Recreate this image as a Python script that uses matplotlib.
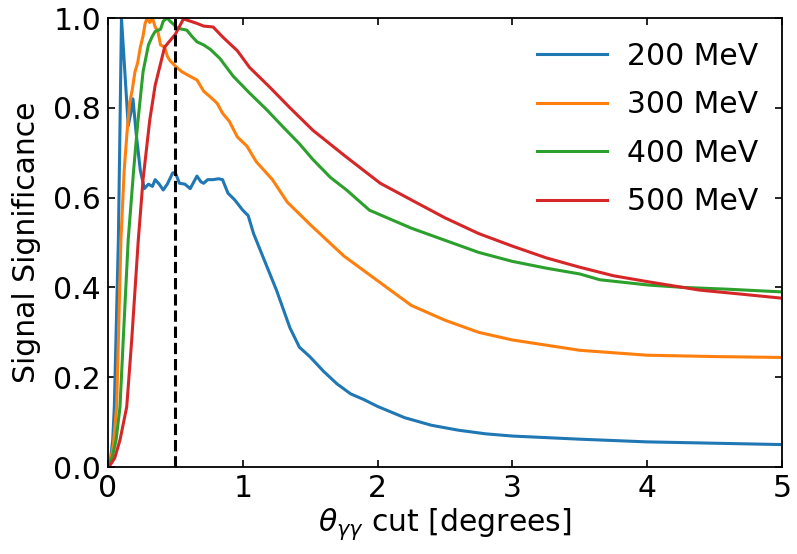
import matplotlib
matplotlib.use("Agg")
import matplotlib.pyplot as plt

# 200 MeV
x200 = [0.0, 0.02, 0.035, 0.047, 0.059, 0.077, 0.09, 0.10, 0.125, 0.15, 0.17, 0.185, 0.21, 0.24, 0.27,
        0.30, 0.33, 0.35, 0.38, 0.41, 0.44, 0.48, 0.50, 0.53, 0.57, 0.61, 0.66, 0.69, 0.71, 0.74,
        0.78, 0.82, 0.85, 0.89, 0.94, 1.0, 1.04, 1.08, 1.15, 1.25, 1.35, 1.42, 1.5, 1.6, 1.7,
        1.8, 1.9, 2.0, 2.2, 2.4, 2.6, 2.8, 3.0, 3.5, 4.0, 4.5, 5.0]
y200 = [0.0, 0.02, 0.06, 0.134, 0.283, 0.506, 0.78, 1.0, 0.88, 0.76, 0.79, 0.82, 0.74, 0.66, 0.62,
        0.63, 0.625, 0.64, 0.63, 0.617, 0.63, 0.655, 0.655, 0.632, 0.63, 0.62, 0.648, 0.635, 0.632, 0.64,
        0.64, 0.642, 0.64, 0.61, 0.595, 0.572, 0.56, 0.52, 0.468, 0.394, 0.31, 0.267, 0.245, 0.213, 0.185,
        0.163, 0.15, 0.135, 0.11, 0.093, 0.082, 0.074, 0.069, 0.062, 0.056, 0.053, 0.050]

# 300 MeV
x300 = [0.0, 0.02, 0.04, 0.064, 0.077, 0.096, 0.12, 0.14, 0.16, 0.18, 0.20, 0.22, 0.24, 0.26, 0.275,
        0.29, 0.31, 0.33, 0.35, 0.37, 0.39, 0.42, 0.44, 0.46, 0.51, 0.55, 0.61, 0.66, 0.71, 0.76,
        0.81, 0.85, 0.90, 0.96, 1.03, 1.10, 1.22, 1.33, 1.5, 1.75, 2.0, 2.25, 2.5, 2.75, 3.0,
        3.5, 4.0, 4.5, 5.0]
y300 = [0.0, 0.015, 0.05, 0.134, 0.283, 0.506, 0.66, 0.74, 0.81, 0.84, 0.88, 0.90, 0.935, 0.96, 0.987,
        1.0, 0.99, 1.0, 0.98, 0.97, 0.94, 0.935, 0.915, 0.905, 0.89, 0.88, 0.87, 0.862, 0.837, 0.824,
        0.81, 0.788, 0.77, 0.735, 0.715, 0.68, 0.64, 0.59, 0.54, 0.47, 0.415, 0.36, 0.327, 0.30, 0.283,
        0.26, 0.249, 0.246, 0.244]

# 400 MeV
x400 = [0.0, 0.03, 0.06, 0.089, 0.113, 0.15, 0.19, 0.22, 0.26, 0.30, 0.33, 0.35, 0.39, 0.41, 0.44,
        0.46, 0.49, 0.51, 0.55, 0.585, 0.62, 0.66, 0.71, 0.76, 0.83, 0.93, 1.05, 1.18, 1.30, 1.42,
        1.52, 1.65, 1.77, 1.94, 2.25, 2.5, 2.75, 3.0, 3.25, 3.5, 3.65, 4.02, 4.27, 4.6, 5.0]
y400 = [0.0, 0.02, 0.06, 0.134, 0.283, 0.506, 0.66, 0.764, 0.88, 0.94, 0.96, 0.97, 0.975, 0.993, 1.0,
        0.993, 0.985, 0.978, 0.975, 0.973, 0.96, 0.947, 0.94, 0.93, 0.91, 0.87, 0.833, 0.795, 0.757, 0.72,
        0.685, 0.645, 0.617, 0.572, 0.532, 0.505, 0.478, 0.458, 0.443, 0.43, 0.417, 0.405, 0.40, 0.396, 0.39]

# 500 MeV
x500 = [0.0, 0.02, 0.05, 0.089, 0.139, 0.176, 0.225, 0.26, 0.31, 0.35, 0.42, 0.50, 0.56, 0.61, 0.66,
        0.71, 0.78, 0.85, 0.96, 1.05, 1.2, 1.35, 1.52, 1.77, 2.02, 2.25, 2.5, 2.75, 3.0, 3.25,
        3.5, 3.75, 4.02, 4.39, 4.7, 5.0]
y500 = [0.0, 0.006, 0.02, 0.06, 0.134, 0.283, 0.506, 0.64, 0.773, 0.85, 0.935, 0.964, 0.998, 0.993, 0.988,
        0.982, 0.98, 0.958, 0.927, 0.89, 0.846, 0.80, 0.75, 0.69, 0.632, 0.595, 0.555, 0.52, 0.492, 0.466,
        0.445, 0.426, 0.412, 0.394, 0.385, 0.376]

labels = ["200 MeV", "300 MeV", "400 MeV", "500 MeV"]
colors = ["#1f77b4", "#ff7f0e", "#2ca02c", "#d62728"]
cut_value = 0.5

FS = 21.5

fig = plt.figure(figsize=(7.97, 5.54), dpi=100)
ax = fig.add_axes([0.1355, 0.157, 0.8455, 0.8105])

for xs, ys, lab, c in zip([x200, x300, x400, x500], [y200, y300, y400, y500], labels, colors):
    ax.plot(xs, ys, color=c, lw=2.2, label=lab)

ax.axvline(cut_value, color="black", ls="--", lw=2.2)

ax.set_xlim(0, 5)
ax.set_ylim(0, 1)
ax.set_xticks([0, 1, 2, 3, 4, 5])
ax.set_yticks([0.0, 0.2, 0.4, 0.6, 0.8, 1.0])
ax.tick_params(direction="in", top=True, right=True, length=5, width=1.2, labelsize=FS, pad=5)
for s in ax.spines.values():
    s.set_linewidth(1.3)

ax.set_xlabel(r"$\theta_{\gamma\gamma}$ cut [degrees]", fontsize=FS, labelpad=2)
ax.set_ylabel("Signal Significance", fontsize=FS, labelpad=9)

ax.legend(loc="upper right", frameon=False, fontsize=FS, handlelength=2.35,
          handletextpad=0.65, labelspacing=0.65, borderaxespad=0.4)

fig.savefig("out.png", dpi=100)
